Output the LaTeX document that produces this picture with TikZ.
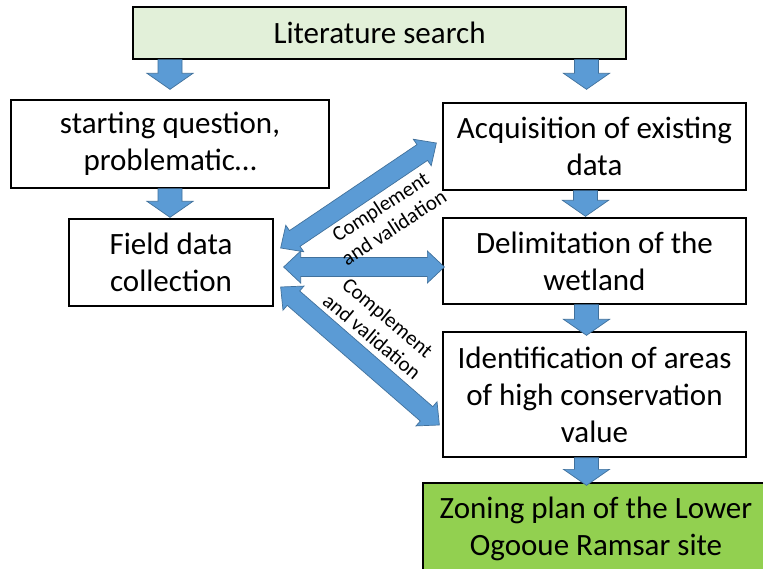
\documentclass[tikz,border=0pt]{standalone}
\usepackage{fontspec}
\setmainfont{Carlito}
\usetikzlibrary{calc}
\definecolor{arrowblue}{HTML}{5B9BD5}
\definecolor{arrowedge}{HTML}{41719C}
\definecolor{litgreen}{HTML}{E2F0D9}
\definecolor{zongreen}{HTML}{92D050}
\tikzset{
  box/.style={draw=black, line width=1.3pt, fill=white, align=center, inner sep=0pt,
              font=\fontsize{31}{37}\selectfont},
  barrow/.style={fill=arrowblue, draw=arrowedge, line width=0.7pt, line join=miter},
  lbl/.style={align=center, inner sep=0pt, font=\fontsize{21}{24.5}\selectfont}
}
% single block arrow: #1 start, #2 tip
\newcommand\blkarrow[2]{%
  \filldraw[barrow] let \p1=(#1), \p2=(#2), \n1={atan2(\y2-\y1,\x2-\x1)} in
    ($(\p1)+(\n1+90:12pt)$) --
    ($(\p2)+(\n1+180:16pt)+(\n1+90:12pt)$) --
    ($(\p2)+(\n1+180:16pt)+(\n1+90:23pt)$) --
    (\p2) --
    ($(\p2)+(\n1+180:16pt)+(\n1-90:23pt)$) --
    ($(\p2)+(\n1+180:16pt)+(\n1-90:12pt)$) --
    ($(\p1)+(\n1-90:12pt)$) -- cycle;}
% double block arrow: #1 tip, #2 tip
\newcommand\dblarrow[2]{%
  \filldraw[barrow] let \p1=(#1), \p2=(#2), \n1={atan2(\y2-\y1,\x2-\x1)} in
    (\p1) --
    ($(\p1)+(\n1:17pt)+(\n1+90:16pt)$) --
    ($(\p1)+(\n1:17pt)+(\n1+90:9.5pt)$) --
    ($(\p2)+(\n1+180:17pt)+(\n1+90:9.5pt)$) --
    ($(\p2)+(\n1+180:17pt)+(\n1+90:16pt)$) --
    (\p2) --
    ($(\p2)+(\n1+180:17pt)+(\n1-90:16pt)$) --
    ($(\p2)+(\n1+180:17pt)+(\n1-90:9.5pt)$) --
    ($(\p1)+(\n1:17pt)+(\n1-90:9.5pt)$) --
    ($(\p1)+(\n1:17pt)+(\n1-90:16pt)$) -- cycle;}
\begin{document}
\begin{tikzpicture}[x=1pt,y=-1pt]
\clip (0,0) rectangle (763,569);
\fill[white] (0,0) rectangle (763,569);

\node[box, fill=litgreen, minimum width=493pt, minimum height=52pt] (lit) at (379.5,33) {Literature search};
\node[box, minimum width=318pt, minimum height=88pt] (sq) at (170,144) {starting question,\\problematic…};
\node[box, minimum width=204pt, minimum height=87pt] (fd) at (171,262.5) {Field data\\collection};
\node[box, minimum width=303pt, minimum height=87pt] (acq) at (594.5,146.5) {Acquisition of existing\\data};
\node[box, minimum width=303pt, minimum height=86pt] (del) at (594.5,261) {Delimitation of the\\wetland};
\node[box, minimum width=303pt, minimum height=125pt] (idf) at (594.5,394.5) {Identification of areas\\of high conservation\\value};
\node[box, fill=zongreen, minimum width=346pt, minimum height=92pt] (zon) at (596,529) {Zoning plan of the Lower\\Ogooue Ramsar site};

% vertical flow arrows
\blkarrow{$(lit.south -| sq.north)$}{$(sq.north)+(0,-10)$}
\blkarrow{$(lit.south -| acq.north)+(-8,0)$}{$(acq.north)+(-8,-13)$}
\blkarrow{$(sq.south)$}{$(sq.south |- fd.north)+(0,-1)$}
\blkarrow{$(acq.south)+(-9,0)$}{$(del.north)+(-9,-1)$}
\blkarrow{$(del.south)+(-8,0)$}{$(idf.north)+(-8,4)$}
\blkarrow{$(idf.south)+(-8,0)$}{$(idf.south |- zon.north)+(-8,3)$}

% exchange arrows
\dblarrow{$(fd.east)+(7,-14.5)$}{$(acq.west)+(-6,-3.5)$}
\dblarrow{$(fd.east)+(10,4.5)$}{$(del.west)+(2,6)$}
\dblarrow{$(fd.east)+(7,24.5)$}{$(idf.west)+(-3,30.5)$}

\node[lbl, rotate=33] (lab1) at (387,217) {Complement\\and validation};
\node[lbl, rotate=-40] (lab2) at (380,327) {Complement\\and validation};
\end{tikzpicture}
\end{document}
